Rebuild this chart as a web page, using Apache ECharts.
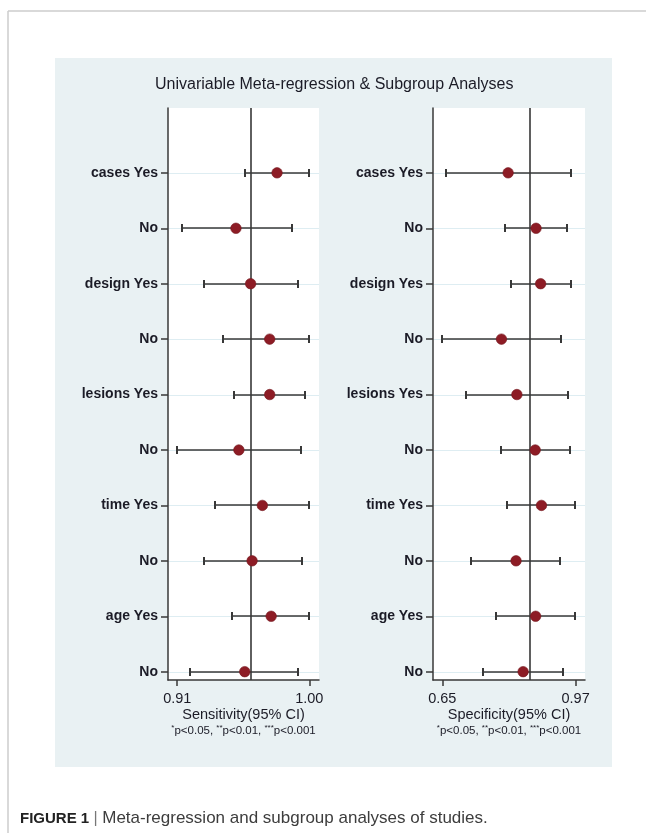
<!DOCTYPE html>
<html>
<head>
<meta charset="utf-8">
<script src="https://cdn.jsdelivr.net/npm/echarts@6/dist/echarts.min.js"></script>
<style>
  html, body { margin: 0; padding: 0; background: #ffffff; }
  #chart { width: 646px; height: 833px; }
</style>
</head>
<body>
<div id="chart"></div>
<script>
// Subgroup rows, top to bottom
const rowLabels = ['cases Yes', 'No', 'design Yes', 'No', 'lesions Yes', 'No', 'time Yes', 'No', 'age Yes', 'No'];
const rowPos = [10, 9, 8, 7, 6, 5, 4, 3, 2, 1];

// Sensitivity estimates with 95% CI
const sensEst  = [0.978, 0.950, 0.960, 0.973, 0.973, 0.952, 0.968, 0.961, 0.974, 0.956];
const sensLow  = [0.956, 0.913, 0.928, 0.941, 0.949, 0.910, 0.936, 0.928, 0.947, 0.919];
const sensHigh = [1.000, 0.988, 0.992, 1.000, 0.997, 0.994, 1.000, 0.995, 1.000, 0.992];

// Specificity estimates with 95% CI
const specEst  = [0.808, 0.875, 0.886, 0.792, 0.829, 0.873, 0.888, 0.827, 0.874, 0.844];
const specLow  = [0.659, 0.801, 0.816, 0.650, 0.708, 0.792, 0.806, 0.720, 0.780, 0.748];
const specHigh = [0.958, 0.949, 0.958, 0.936, 0.952, 0.956, 0.969, 0.933, 0.969, 0.940];

// Pooled estimates (vertical reference lines)
const sensPooled = 0.964;
const specPooled = 0.858;

// Axis tick labels
const sensTicks = [0.91, 1.00];
const specTicks = [0.65, 0.97];

const FONT = "'Liberation Sans', Arial, Helvetica, sans-serif";
const INK = '#1b1b26';
const LINE = '#383838';
const GRIDLINE = '#deedf2';

const chart = echarts.init(document.getElementById('chart'), null, { renderer: 'canvas' });

function ciData(low, high) {
  return rowPos.map((y, i) => [low[i], high[i], y]);
}
function ptData(est) {
  return rowPos.map((y, i) => [est[i], y]);
}

// Row guide line across the plot, then the whisker with end caps on top of it
function renderCI(params, api) {
  const cs = params.coordSys;
  const y = api.value(2);
  const a = api.coord([api.value(0), y]);
  const b = api.coord([api.value(1), y]);
  const yy = Math.round(a[1]);
  const xa = Math.round(a[0]);
  const xb = Math.round(b[0]);
  const cap = 4;
  const style = { stroke: LINE, lineWidth: 2 };
  return {
    type: 'group',
    children: [
      { type: 'line', shape: { x1: cs.x, y1: yy + 0.5, x2: cs.x + cs.width, y2: yy + 0.5 }, style: { stroke: GRIDLINE, lineWidth: 1 } },
      { type: 'line', shape: { x1: xa, y1: yy, x2: xb, y2: yy }, style: { stroke: LINE, lineWidth: 1.6 } },
      { type: 'line', shape: { x1: xa, y1: yy - cap, x2: xa, y2: yy + cap }, style },
      { type: 'line', shape: { x1: xb, y1: yy - cap, x2: xb, y2: yy + cap }, style }
    ]
  };
}

const footnote = '{s|*}{f|p<0.05, }{s|**}{f|p<0.01, }{s|***}{f|p<0.001}';

function xAxisFor(gridIndex, min, max, ticks, title) {
  return {
    type: 'value', gridIndex, min, max,
    axisLine: { show: true, lineStyle: { color: LINE, width: 1.5 } },
    axisTick: { show: true, customValues: ticks, length: 6, lineStyle: { color: LINE, width: 1.5 } },
    axisLabel: {
      customValues: ticks, margin: 11,
      formatter: v => v.toFixed(2),
      color: INK, fontSize: 14.5, fontFamily: FONT
    },
    splitLine: { show: false },
    name: '{t|' + title + '}\n' + footnote,
    nameLocation: 'middle', nameGap: 26, nameMoveOverlap: false,
    nameTextStyle: {
      color: INK, fontSize: 14.5, fontFamily: FONT,
      rich: {
        t: { fontSize: 14.5, fontFamily: FONT, color: INK, lineHeight: 18 },
        s: { fontSize: 8, fontFamily: FONT, color: INK, lineHeight: 14, verticalAlign: 'top', padding: [0, 0, 3, 0] },
        f: { fontSize: 11.5, fontFamily: FONT, color: INK, lineHeight: 14 }
      }
    }
  };
}

function yAxisFor(gridIndex) {
  return {
    type: 'value', gridIndex, min: 0.85, max: 11.17,
    axisLine: { show: true, lineStyle: { color: LINE, width: 1.5 } },
    axisTick: { show: true, customValues: rowPos, length: 7, lineStyle: { color: LINE, width: 1.5 } },
    axisLabel: {
      customValues: rowPos, margin: 10,
      formatter: v => rowLabels[rowPos.indexOf(Math.round(v))] || '',
      color: INK, fontSize: 14, fontWeight: 'bold', fontFamily: FONT
    },
    splitLine: { show: false }
  };
}

function refSeries(idx, pooled) {
  return {
    type: 'scatter', xAxisIndex: idx, yAxisIndex: idx, data: [], z: 1, silent: true,
    markLine: {
      silent: true, symbol: 'none', animation: false,
      label: { show: false },
      data: [{ xAxis: pooled, lineStyle: { color: LINE, width: 1.6, type: 'solid' } }]
    }
  };
}

function ciSeries(idx, low, high) {
  return {
    type: 'custom', xAxisIndex: idx, yAxisIndex: idx, z: 0, silent: true,
    renderItem: renderCI, data: ciData(low, high), animation: false
  };
}

function pointSeries(idx, est) {
  return {
    type: 'scatter', xAxisIndex: idx, yAxisIndex: idx, z: 5, silent: true,
    symbol: 'circle', symbolSize: 10.5, animation: false,
    itemStyle: { color: '#8d1c25', borderColor: '#74151c', borderWidth: 0.6, opacity: 1 },
    data: ptData(est)
  };
}

const option = {
  backgroundColor: '#ffffff',
  animation: false,
  title: {
    text: 'Univariable Meta-regression & Subgroup Analyses',
    left: 150, top: 72,
    textStyle: { color: INK, fontSize: 16, fontWeight: 'normal', fontFamily: FONT }
  },
  graphic: [
    // page frame
    { type: 'line', z: -10, shape: { x1: 8, y1: 11, x2: 646, y2: 11 }, style: { stroke: '#cdcdcd', lineWidth: 1.5 } },
    { type: 'line', z: -10, shape: { x1: 8, y1: 11, x2: 8, y2: 833 }, style: { stroke: '#cdcdcd', lineWidth: 1.5 } },
    // plot region background
    { type: 'rect', z: -10, shape: { x: 55, y: 58, width: 557, height: 709 }, style: { fill: '#e9f1f3' } },
    // figure caption
    {
      type: 'text', left: 20, top: 810,
      style: {
        text: '{b|FIGURE 1} {p||} {r|Meta-regression and subgroup analyses of studies.}',
        fontFamily: FONT, fontSize: 16, fill: '#3a3a3a',
        rich: {
          b: { fontWeight: 'bold', fontSize: 15, fill: '#222222', fontFamily: FONT },
          p: { fontSize: 16, fill: '#777777', fontFamily: FONT },
          r: { fontSize: 17, fill: '#3d3d3d', fontFamily: FONT }
        }
      }
    }
  ],
  grid: [
    { left: 168, top: 108, width: 151, height: 572, show: true, backgroundColor: '#ffffff', borderWidth: 0 },
    { left: 433, top: 108, width: 152, height: 572, show: true, backgroundColor: '#ffffff', borderWidth: 0 }
  ],
  xAxis: [
    xAxisFor(0, 0.9037, 1.0066, sensTicks, 'Sensitivity(95% CI)'),
    xAxisFor(1, 0.6277, 0.9925, specTicks, 'Specificity(95% CI)')
  ],
  yAxis: [yAxisFor(0), yAxisFor(1)],
  series: [
    ciSeries(0, sensLow, sensHigh),
    refSeries(0, sensPooled),
    pointSeries(0, sensEst),
    ciSeries(1, specLow, specHigh),
    refSeries(1, specPooled),
    pointSeries(1, specEst)
  ]
};

chart.setOption(option);
</script>
</body>
</html>
